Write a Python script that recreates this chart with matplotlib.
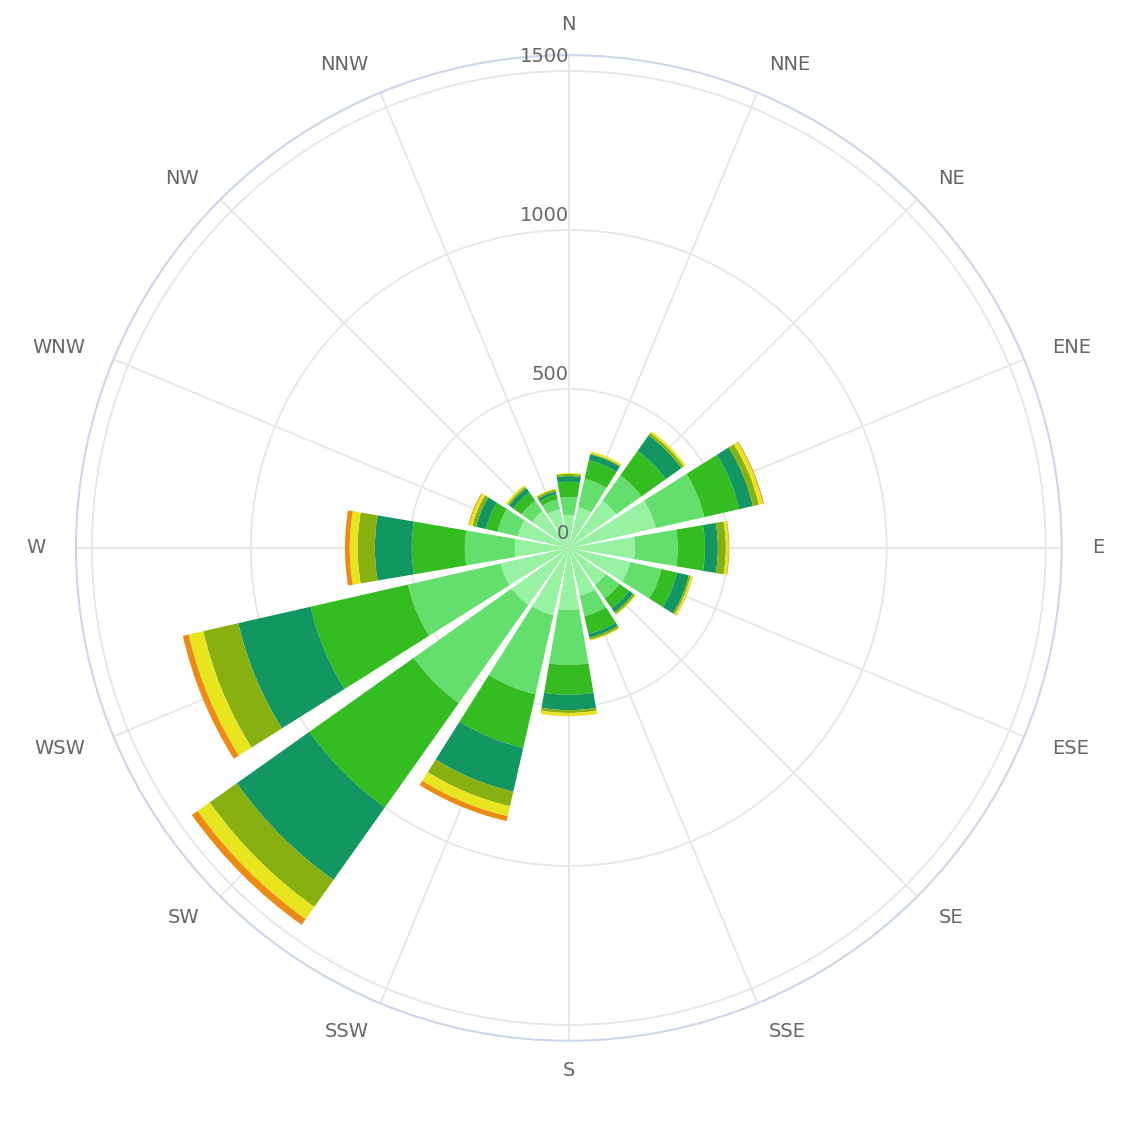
import numpy as np
import matplotlib
matplotlib.use('Agg')
import matplotlib.pyplot as plt

directions = ['N', 'NNE', 'NE', 'ENE', 'E', 'ESE', 'SE', 'SSE',
              'S', 'SSW', 'SW', 'WSW', 'W', 'WNW', 'NW', 'NNW']

# stacked segments per direction, inner to outer
s1 = [104, 132, 182, 280, 208, 198, 142, 154, 195, 217, 220, 220, 170, 164, 142, 126]
s2 = [56, 91, 98, 157, 135, 101, 53, 66, 173, 255, 378, 299, 157, 66, 40, 31]
s3 = [48, 60, 94, 113, 85, 50, 38, 57, 94, 173, 402, 314, 167, 37, 32, 16]
s4 = [18, 19, 60, 44, 41, 38, 15, 12, 48, 141, 280, 233, 116, 32, 16, 9]
s5 = [7, 3, 9, 19, 25, 6, 7, 7, 9, 47, 104, 113, 54, 12, 6, 7]
s6 = [3, 6, 7, 13, 9, 6, 3, 3, 9, 32, 47, 47, 25, 10, 6, 3]
s7 = [0, 0, 0, 3, 2, 1, 0, 0, 1, 16, 22, 19, 15, 3, 0, 0]
series = [s1, s2, s3, s4, s5, s6, s7]
colors = ['#97f2a2', '#64de6c', '#33bd20', '#129763', '#88b010', '#e7e61e', '#ee8a12']

fig = plt.figure(figsize=(11.29, 11.27), dpi=100)
ax = fig.add_axes([0.0673, 0.0763, 0.873, 0.875], projection='polar')
ax.set_theta_zero_location('N')
ax.set_theta_direction(-1)

theta = np.arange(16) * 2 * np.pi / 16
width = 2 * np.pi / 16 * 0.86
bottom = np.zeros(16)
for vals, c in zip(series, colors):
    vals = np.array(vals, dtype=float)
    ax.bar(theta, vals, width=width, bottom=bottom, color=c, linewidth=0, zorder=3)
    bottom += vals

rmax = 1550
ax.set_ylim(0, rmax)
ax.set_yticks([500, 1000, 1500])
ax.set_yticklabels([])
ax.set_xticks(theta)
ax.set_xticklabels([])
ax.grid(True, color='#e6e6e6', linewidth=1.3)
ax.spines['polar'].set_color('#ccd6eb')
ax.spines['polar'].set_linewidth(1.5)

for r in [0, 500, 1000, 1500]:
    ax.text(0, r + 15, str(r), ha='right', va='bottom', fontsize=14, color='#666666',
            zorder=5)
for t, lab in zip(theta, directions):
    s = np.sin(t)
    ha = 'center' if abs(s) < 0.01 else ('left' if s > 0 else 'right')
    ax.text(t, 1645, lab, ha=ha, va='center', fontsize=14, color='#666666')

fig.savefig('out.png', dpi=100)
